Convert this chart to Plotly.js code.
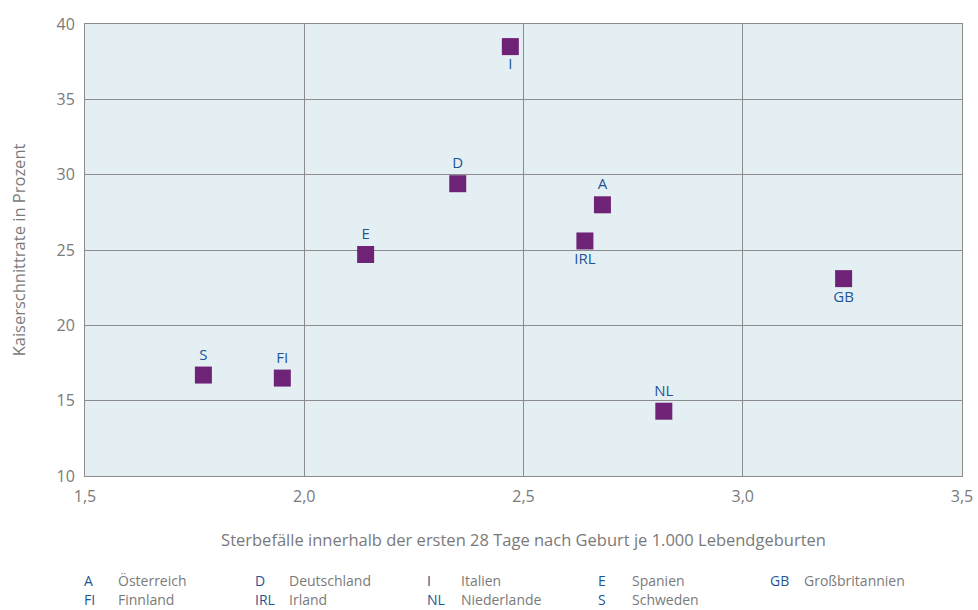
<!DOCTYPE html>
<html><head><meta charset="utf-8">
<script src="https://cdn.plot.ly/plotly-3.0.1.min.js"></script>
<style>body{margin:0;background:#fff}#c{width:978px;height:610px}</style>
</head><body><div id="c"></div>
<script>
const codes = ["A","D","I","E","GB","FI","IRL","NL","S"];
const mortality = [2.68, 2.35, 2.47, 2.14, 3.23, 1.95, 2.64, 2.82, 1.77];
const cesarean = [28.0, 29.4, 38.5, 24.7, 23.1, 16.5, 25.6, 14.3, 16.7];
const labelPos = ["top center","top center","bottom center","top center","bottom center","top center","bottom center","top center","top center"];
const legendCodes = ["A","D","I","E","GB","FI","IRL","NL","S"];
const legendNames = ["Österreich","Deutschland","Italien","Spanien","Großbritannien","Finnland","Irland","Niederlande","Schweden"];
const xTitle = "Sterbefälle innerhalb der ersten 28 Tage nach Geburt je 1.000 Lebendgeburten";
const yTitle = "Kaiserschnittrate in Prozent";

const FONT = "Open Sans, Noto Sans, sans-serif";
const grey = "#7a7a7a";
const blue = "#1f5595";

const trace = {
  x: mortality, y: cesarean, text: codes, mode: "markers+text",
  type: "scatter", textposition: labelPos,
  marker: {symbol: "square", size: 17, color: "#6e2376"},
  textfont: {family: FONT, size: 15, color: blue},
  hoverinfo: "none", cliponaxis: false
};

const annotations = [];
const colPx = [82, 253, 425, 596, 768];
const nameOff = 34;
const plotL = 85, plotW = 877, plotB = 476, plotH = 452;
for (let i = 0; i < legendCodes.length; i++) {
  const row = i < 5 ? 0 : 1;
  const col = i < 5 ? i : i - 5;
  const py = row === 0 ? 580 : 599;
  const yp = (plotB - py) / plotH;
  annotations.push({xref:"paper", yref:"paper", x:(colPx[col]-plotL)/plotW, y:yp, text:legendCodes[i],
    showarrow:false, xanchor:"left", yanchor:"middle", font:{family:FONT, size:14, color:blue}});
  annotations.push({xref:"paper", yref:"paper", x:(colPx[col]+nameOff-plotL)/plotW, y:yp, text:legendNames[i],
    showarrow:false, xanchor:"left", yanchor:"middle", font:{family:FONT, size:14, color:grey}});
}

const layout = {
  width: 978, height: 610,
  margin: {l: 85, r: 16, t: 24, b: 134},
  paper_bgcolor: "#ffffff", plot_bgcolor: "#e4eff4",
  separators: ",.",
  showlegend: false,
  font: {family: FONT, color: grey},
  xaxis: {range: [1.5, 3.5], dtick: 0.5, tick0: 1.5, tickformat: ".1f",
    showgrid: true, gridcolor: "#8c8c8c", gridwidth: 1, zeroline: false,
    showline: true, mirror: true, linecolor: "#8c8c8c", linewidth: 1,
    ticks: "", ticklabelstandoff: 6, tickfont: {family: FONT, size: 16, color: grey},
    title: {text: xTitle, font: {family: FONT, size: 16.5, color: grey}, standoff: 28}},
  yaxis: {range: [10, 40], dtick: 5, showgrid: true, gridcolor: "#8c8c8c", gridwidth: 1,
    zeroline: false, showline: true, mirror: true, linecolor: "#8c8c8c", linewidth: 1,
    ticks: "", ticklabelstandoff: 6, tickfont: {family: FONT, size: 16, color: grey},
    title: {text: yTitle, font: {family: FONT, size: 16.5, color: grey}, standoff: 26}},
  annotations: annotations
};
Plotly.newPlot("c", [trace], layout, {staticPlot: true});
</script></body></html>
